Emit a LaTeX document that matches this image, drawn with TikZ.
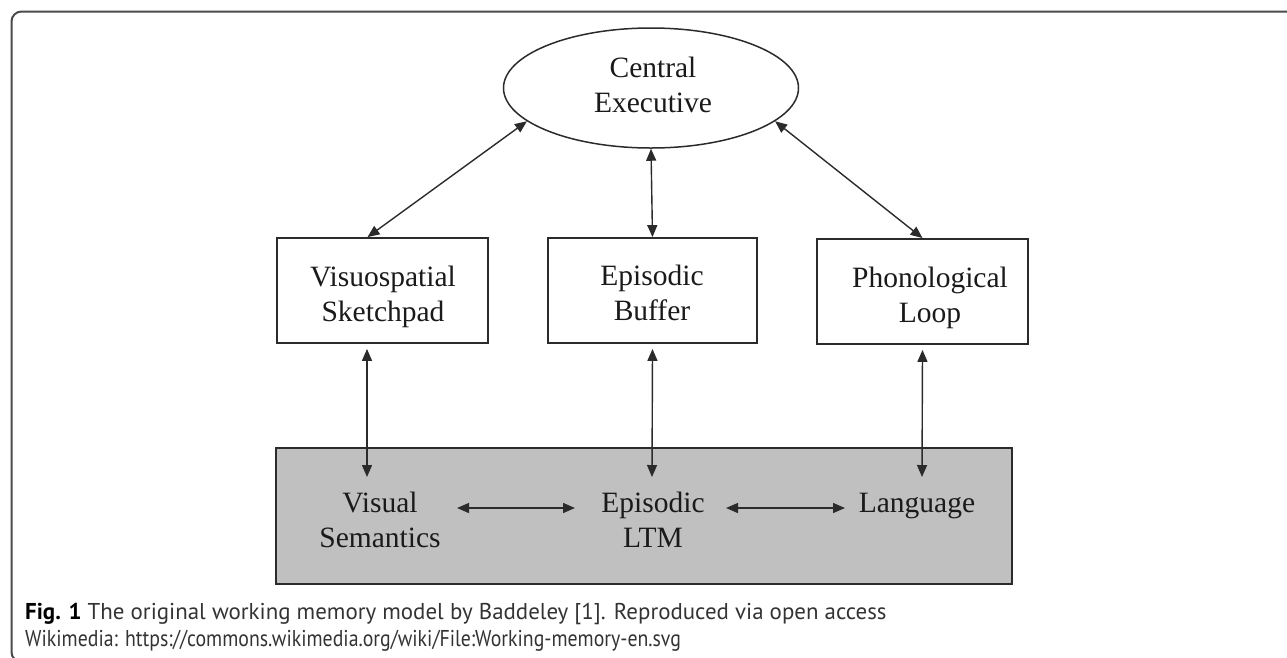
\documentclass[tikz,border=0pt]{standalone}
\usepackage{fontspec}
\setmainfont{Liberation Serif}
\newfontfamily\capfont{PT Sans}
\usetikzlibrary{arrows.meta,shapes.geometric}
\definecolor{ln}{HTML}{2B2B2B}
\definecolor{grayfill}{HTML}{C0C0C0}
\definecolor{framecol}{HTML}{4A4A4A}
\definecolor{txt}{HTML}{1A1A1A}
\definecolor{captxt}{HTML}{333333}
\begin{document}
\begin{tikzpicture}[x=1pt,y=-1pt,
  tipx/.tip={Triangle[length=12pt,width=10pt]},
  conn/.style={draw=ln, line width=1.4pt, tipx-tipx},
  boxnode/.style={draw=ln, line width=1.8pt, inner sep=0pt, minimum height=105pt},
  lbl/.style={font=\fontsize{29.5}{35}\selectfont, inner sep=0pt, anchor=base, text=txt}
]
\useasboundingbox (0,0) rectangle (1287,657);
% outer frame
\draw[framecol, line width=2pt, rounded corners=10pt] (1300,11.5) -- (11.5,11.5) -- (11.5,662) -- (1300,662);
% shapes
\node[ellipse, draw=ln, line width=1.5pt, minimum width=295pt, minimum height=120pt, inner sep=0pt] (ce) at (651,88) {};
\node[boxnode, minimum width=211pt] (vs) at (382.5,290.5) {};
\node[boxnode, minimum width=209pt] (eb) at (652.5,290.5) {};
\node[boxnode, minimum width=211pt] (pl) at (922.5,291.5) {};
\node[draw=ln, line width=1.6pt, fill=grayfill, minimum width=736pt, minimum height=136pt, inner sep=0pt] (lt) at (644,516) {};
% labels
\node[lbl] (tce) at (653,77) {\begin{tabular}[t]{@{}c@{}}Central\\Executive\end{tabular}};
\node[lbl] (tvs) at (383,286) {\begin{tabular}[t]{@{}c@{}}Visuospatial\\Sketchpad\end{tabular}};
\node[lbl] (teb) at (652,285) {\begin{tabular}[t]{@{}c@{}}Episodic\\Buffer\end{tabular}};
\node[lbl] (tpl) at (930,287) {\begin{tabular}[t]{@{}c@{}}Phonological\\Loop\end{tabular}};
\node[lbl] (tvsem) at (380,512) {\begin{tabular}[t]{@{}c@{}}Visual\\Semantics\end{tabular}};
\node[lbl] (tltm) at (653,512) {\begin{tabular}[t]{@{}c@{}}Episodic\\LTM\end{tabular}};
\node[lbl] (tlang) at (917,512) {Language};
% connector end points
\coordinate (vsin) at ([xshift=-15pt]vs.north);
\coordinate (vsout) at ([xshift=-15.5pt,yshift=-5pt]vs.south);
\coordinate (ebout) at ([yshift=-5pt]eb.south);
\coordinate (plout) at ([yshift=-5pt]pl.south);
\coordinate (vsemtop) at (367,477);
\coordinate (ltmtop) at (652,477);
\coordinate (langtop) at (922,477);
\coordinate (h1a) at (457,508);
\coordinate (h1b) at (575,508);
\coordinate (h2a) at (726,508);
\coordinate (h2b) at (845,508);
% connectors
\draw[conn] (ce.195) -- (vsin);
\draw[conn] (ce.south) -- (eb.north);
\draw[conn] (ce.-15) -- (pl.north);
\draw[conn] (vsout) -- (vsemtop);
\draw[conn] (ebout) -- (ltmtop);
\draw[conn] (plout) -- (langtop);
\draw[conn] (h1a) -- (h1b);
\draw[conn] (h2a) -- (h2b);
% caption
\node[anchor=base west, inner sep=0pt, text=captxt, font=\capfont\fontsize{22.9}{27}\selectfont] (cap) at (25,619)
  {\begin{tabular}[t]{@{}l@{}}\textbf{\color{black}Fig. 1} The original working memory model by Baddeley [1]. Reproduced via open access\\\scalebox{0.865}[1]{Wikimedia: https://commons.wikimedia.org/wiki/File:Working-memory-en.svg}\end{tabular}};
\end{tikzpicture}
\end{document}
